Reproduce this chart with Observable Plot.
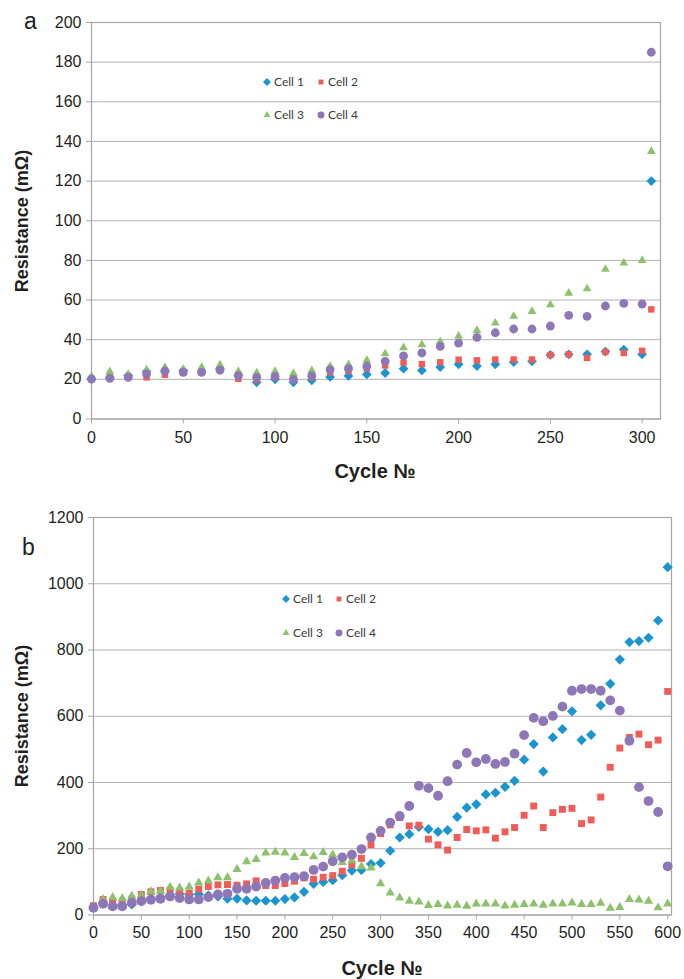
<!DOCTYPE html>
<html><head><meta charset="utf-8">
<script src="https://cdn.jsdelivr.net/npm/d3@7"></script>
<script src="https://cdn.jsdelivr.net/npm/@observablehq/plot@0.6"></script>
<style>
body{margin:0;background:#fff;}
#wrap{position:relative;width:684px;height:979px;overflow:hidden;color:#231f20;font-family:'Liberation Sans',Arial,sans-serif;}
.panel{position:absolute;left:0;}
.t{position:absolute;white-space:nowrap;}
.ptag{font-size:23px;}
.xt{font-weight:bold;font-size:20px;transform:translate(-50%,-50%);}
.yt{font-weight:bold;font-size:18px;transform:translate(-50%,-50%) rotate(-90deg);}
.leg{position:absolute;font-family:Lato,'Open Sans',sans-serif;font-size:12px;color:#3a3a3a;line-height:14px;white-space:nowrap;display:flex;align-items:center;}
.leg svg{margin-right:2px;}
</style>
</head><body><div id="wrap"></div>
<script>
// ---------- Panel a ----------
const cyclesA = [0,10,20,30,40,50,60,70,80,90,100,110,120,130,140,150,160,170,180,190,200,210,220,230,240,250,260,270,280,290,300,305];
const cell1A = [20,21,22,24,24,24.5,24,25.5,22,18.5,20,18.5,19.5,21.2,21.7,22.5,23.2,25.4,24.5,26.2,27.6,26.7,27.6,28.7,29.1,32.3,32.6,32.6,34,35,32.6,120];
const cell2A = [20,21,21.5,21,22.3,23.5,24,25,20.3,19.9,21,20.9,21,23.6,24.2,25.4,27,28.4,27.7,28.6,29.9,29.6,30,30,30,32.3,32.6,30.8,33.8,33.3,34.4,55.3];
const cell3A = [21.5,23.9,22.5,24.8,26,25,26,27.3,24,23.3,24,23,24.4,26.6,27.4,29.6,32.9,36,37.5,39,41.8,44.7,48.4,51.8,54.3,57.6,63.5,65.7,75.5,78.7,80,135];
const cell4A = [20.2,20.5,21,22.7,24.2,23.5,23.5,24.6,21.9,21,21.5,20,21.7,24.9,25.4,26.6,29.1,31.8,33.3,36.6,38.3,41.2,43.5,45.4,45.4,46.9,52.3,51.8,57,58.3,58,185];
const xTicksA = [0,50,100,150,200,250,300];
const yTicksA = [0,20,40,60,80,100,120,140,160,180,200];

// ---------- Panel b ----------
const cyclesB = [0,10,20,30,40,50,60,70,80,90,100,110,120,130,140,150,160,170,180,190,200,210,220,230,240,250,260,270,280,290,300,310,320,330,340,350,360,370,380,390,400,410,420,430,440,450,460,470,480,490,500,510,520,530,540,550,560,570,580,590,600];
const cell1B = [23,36,28,32,32,42,49,54,59,64,62,63,59,56,49,49,44,43,43,43,48,53,70,94,100,105,120,134,136,154,157,194,234,244,266,259,251,256,296,324,334,364,369,387,405,469,516,433,536,561,615,528,544,633,698,771,824,827,837,889,1050];
const cell2B = [28,47,36,38,48,62,70,74,75,65,66,78,86,91,92,90,94,103,89,89,95,102,112,108,114,119,132,152,171,212,246,272,294,269,271,229,212,196,234,258,254,257,232,251,264,301,329,264,309,319,322,276,287,356,446,504,536,546,514,528,675];
const cell3B = [26,47,53,50,57,60,71,72,84,82,85,97,103,113,113,138,161,168,188,190,188,174,186,176,189,182,159,164,146,142,95,67,52,42,40,29,32,28,30,27,34,34,34,28,30,32,34,30,34,34,37,32,32,36,21,23,47,46,42,22,34];
const cell4B = [22,34,26,26,37,42,46,49,56,51,47,47,54,62,64,79,79,86,97,104,112,114,117,136,146,162,174,182,199,234,254,279,299,329,390,383,360,404,454,489,461,471,456,462,487,543,595,585,601,629,677,682,682,677,648,617,526,386,344,311,147];
const xTicksB = [0,50,100,150,200,250,300,350,400,450,500,550,600];
const yTicksB = [0,200,400,600,800,1000,1200];

const seriesNames = ["Cell 1","Cell 2","Cell 3","Cell 4"];
const seriesColors = ["#1b95d0","#f05c58","#8dc26c","#8e77b7"];
const seriesSymbols = ["diamond2","square2","triangle2","circle"];

const wrap = document.getElementById("wrap");
const tickFont = "'Liberation Sans',Arial,sans-serif";
const plain = d => String(d);

function panel(cfg){
  const vals = cfg.series;
  const dots = vals.map((v,k)=>Plot.dot(cfg.cycles.map((c,i)=>({cycle:c, r:v[i]})), {
    x:"cycle", y:"r", symbol: seriesSymbols[k], fill: seriesColors[k], stroke:"none", r: cfg.sizes[k]
  }));
  return Plot.plot({
    width:684, height:cfg.height,
    marginLeft:cfg.ml, marginRight:cfg.mr, marginTop:cfg.mt, marginBottom:cfg.mb,
    x:{domain:cfg.xdom, label:null},
    y:{domain:cfg.ydom, label:null},
    style:{fontFamily:tickFont, fontSize:"16px", color:"#231f20", background:"transparent", overflow:"visible"},
    marks:[
      Plot.gridY(cfg.yticks, {stroke:"#b2b2b2", strokeOpacity:1, strokeWidth:1}),
      Plot.frame({stroke:"#a6a6a6", strokeWidth:1.2}),
      Plot.axisX(cfg.xticks, {tickSize:5, tickPadding:cfg.xpad, stroke:"#a6a6a6", label:null, tickFormat:plain}),
      Plot.axisY(cfg.yticks, {tickSize:5, tickPadding:5, stroke:"#a6a6a6", label:null, tickFormat:plain}),
      ...dots
    ]
  });
}

const svgA = panel({cycles:cyclesA, series:[cell1A,cell2A,cell3A,cell4A], height:490, ml:91, mr:24, mt:22, mb:71.5,
  xdom:[0,310], ydom:[0,200], xticks:xTicksA, yticks:yTicksA, xpad:8, sizes:[4.4,4.1,4.2,4.4]});
svgA.classList.add("panel"); svgA.style.top="0px";
wrap.appendChild(svgA);

const svgB = panel({cycles:cyclesB, series:[cell1B,cell2B,cell3B,cell4B], height:489, ml:93, mr:13, mt:27, mb:64.5,
  xdom:[0,604], ydom:[0,1200], xticks:xTicksB, yticks:yTicksB, xpad:7, sizes:[4.6,4.4,4.4,4.9]});
svgB.classList.add("panel"); svgB.style.top="490px";
wrap.appendChild(svgB);

function addText(cls, txt, left, top){
  const d = document.createElement("div");
  d.className = "t " + cls; d.textContent = txt;
  d.style.left = left+"px"; d.style.top = top+"px";
  wrap.appendChild(d);
}
addText("ptag","a",24,8);
addText("ptag","b",22,534);
addText("xt","Cycle №",375,471);
addText("xt","Cycle №",382,968);
addText("yt","Resistance (mΩ)",22,221);
addText("yt","Resistance (mΩ)",22,716);

function symbolSvg(k){
  const s = 10;
  const path = d3.symbol(d3["symbol"+["Diamond2","Square2","Triangle2","Circle"][k]], [40,30,34,38][k])();
  return `<svg width="${s}" height="${s}" viewBox="${-s/2} ${-s/2} ${s} ${s}"><path d="${path}" fill="${seriesColors[k]}"/></svg>`;
}
function addLegend(k, left, cy){
  const d = document.createElement("div");
  d.className = "leg";
  d.innerHTML = symbolSvg(k) + "<span>" + seriesNames[k] + "</span>";
  d.style.left = (left-5)+"px"; d.style.top = (cy-7)+"px";
  wrap.appendChild(d);
}
addLegend(0,267,82); addLegend(1,321,82); addLegend(2,267,115); addLegend(3,321,115);
addLegend(0,286,599); addLegend(1,339,599); addLegend(2,286,633); addLegend(3,339,633);
</script>
</body></html>
